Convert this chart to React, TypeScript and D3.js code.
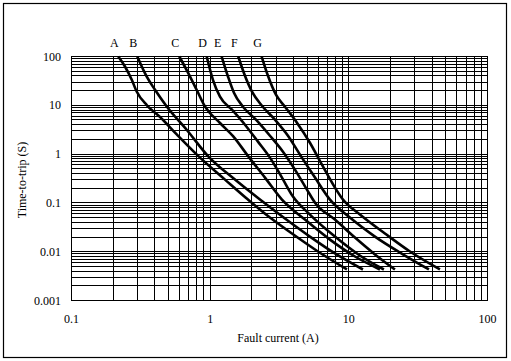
import React, { useEffect, useRef } from "react";
import * as d3 from "d3";

// fuse curves: [fault current (A), time-to-trip (s)]
const curveA = [[0.2175, 100], [0.243, 62.4], [0.272, 33.3], [0.295, 19.2], [0.35, 10], [0.435, 5.75], [0.576, 2.5], [0.83, 0.886], [1.279, 0.3], [1.873, 0.117], [2.698, 0.05], [3.889, 0.0236], [5.99, 0.0101], [9.69, 0.00432]];
const curveB = [[0.298, 100], [0.348, 39], [0.4, 20.8], [0.486, 9.48], [0.677, 3.16], [0.969, 0.899], [1.509, 0.3], [2.286, 0.117], [3.462, 0.0478], [5.24, 0.0204], [7.94, 0.0092], [12.64, 0.00432]];
const curveC = [[0.599, 100], [0.695, 45.7], [0.799, 20.8], [0.917, 9.48], [1.177, 4.34], [1.467, 2.31], [1.883, 0.899], [2.484, 0.33], [3.294, 0.117], [4.826, 0.0455], [7.31, 0.0177], [11.07, 0.00797], [16.76, 0.00432]];
const curveD = [[0.944, 100], [1.047, 33.3], [1.177, 15], [1.436, 8.11], [1.782, 4.0], [2.211, 1.8], [2.698, 0.846], [3.294, 0.33], [3.954, 0.135], [5.24, 0.0577], [7.94, 0.0204], [12.0, 0.00835], [17.9, 0.00432]];
const curveE = [[1.21, 100], [1.344, 39], [1.484, 18.1], [1.724, 9.35], [2.139, 5.07], [2.698, 2.38], [3.349, 1.12], [4.087, 0.48], [4.988, 0.187], [5.7, 0.101], [7.94, 0.0455], [11.07, 0.0195], [15.43, 0.0088], [21.5, 0.00432]];
const curveF = [[1.594, 100], [1.782, 40.3], [2.002, 19], [2.363, 9.8], [2.932, 5.07], [3.639, 2.38], [4.441, 0.974], [5.7, 0.33], [7.31, 0.117], [10.18, 0.0501], [15.43, 0.0204], [25.4, 0.00835], [37.8, 0.00432]];
const curveG = [[2.351, 100], [2.611, 40.3], [2.981, 16.5], [3.462, 9.35], [4.225, 4.4], [5.24, 1.71], [6.4, 0.608], [7.94, 0.206], [9.07, 0.117], [12.02, 0.0577], [18.21, 0.0236], [27.6, 0.0101], [45.4, 0.00432]];

const seriesNames = ["A", "B", "C", "D", "E", "F", "G"];
const seriesData = [curveA, curveB, curveC, curveD, curveE, curveF, curveG];

const xTicks = [0.1, 1, 10, 100];
const xTickLabels = ["0.1", "1", "10", "100"];
const yTicks = [0.001, 0.01, 0.1, 1, 10, 100];
const yTickLabels = ["0.001", "0.01", "0.1", "1", "10", "100"];

const W = 511;
const H = 361;
const margin = { left: 71.5, right: 23.5, top: 56.5, bottom: 60.5 };
const font = "'Liberation Serif', 'Times New Roman', serif";

function App() {
  const svgRef = useRef<SVGSVGElement>(null);

  useEffect(() => {
    const svg = d3.select(svgRef.current);
    svg.selectAll("*").remove();

    const x = d3.scaleLog().domain([0.1, 100]).range([margin.left, W - margin.right]);
    const y = d3.scaleLog().domain([0.001, 100]).range([H - margin.bottom, margin.top]);

    // outer frame
    svg.append("rect")
      .attr("x", 3.5).attr("y", 3.5)
      .attr("width", 503).attr("height", 354)
      .attr("fill", "#fff").attr("stroke", "#000").attr("stroke-width", 1.2);

    // grid
    const grid = svg.append("g").attr("stroke", "#000").attr("stroke-width", 1);
    grid.selectAll(".vx")
      .data(x.ticks())
      .join("line")
      .attr("x1", d => Math.round(x(d) - 0.5) + 0.5)
      .attr("x2", d => Math.round(x(d) - 0.5) + 0.5)
      .attr("y1", y(100)).attr("y2", y(0.001));
    grid.selectAll(".hy")
      .data(y.ticks())
      .join("line")
      .attr("y1", d => Math.round(y(d) - 0.5) + 0.5)
      .attr("y2", d => Math.round(y(d) - 0.5) + 0.5)
      .attr("x1", x(0.1)).attr("x2", x(100));
    svg.append("rect")
      .attr("x", x(0.1)).attr("y", y(100))
      .attr("width", x(100) - x(0.1)).attr("height", y(0.001) - y(100))
      .attr("fill", "none").attr("stroke", "#000");

    // curves
    const line = d3.line<number[]>()
      .x(d => x(d[0]))
      .y(d => y(d[1]))
      .curve(d3.curveMonotoneX);
    svg.append("g")
      .selectAll("path")
      .data(seriesData)
      .join("path")
      .attr("d", d => line(d))
      .attr("fill", "none")
      .attr("stroke", "#000")
      .attr("stroke-width", 2.6)
      .attr("stroke-linejoin", "round");

    // series letters above each curve start
    svg.append("g")
      .selectAll("text")
      .data(seriesNames)
      .join("text")
      .attr("x", (d, i) => x(seriesData[i][0][0]) - 4)
      .attr("y", 47)
      .attr("text-anchor", "middle")
      .attr("font-family", font)
      .attr("font-size", 12)
      .text(d => d);

    // tick labels
    svg.append("g")
      .selectAll("text")
      .data(xTicks)
      .join("text")
      .attr("x", d => x(d))
      .attr("y", 323)
      .attr("text-anchor", "middle")
      .attr("font-family", font)
      .attr("font-size", 12)
      .text((d, i) => xTickLabels[i]);
    svg.append("g")
      .selectAll("text")
      .data(yTicks)
      .join("text")
      .attr("x", 61)
      .attr("y", d => y(d) + 4)
      .attr("text-anchor", "end")
      .attr("font-family", font)
      .attr("font-size", 12)
      .text((d, i) => yTickLabels[i]);

    // axis titles
    svg.append("text")
      .attr("x", 278).attr("y", 342)
      .attr("text-anchor", "middle")
      .attr("font-family", font).attr("font-size", 12)
      .text("Fault current (A)");
    svg.append("text")
      .attr("transform", "translate(26,180) rotate(-90)")
      .attr("text-anchor", "middle")
      .attr("font-family", font).attr("font-size", 12)
      .text("Time-to-trip (S)");
  }, []);

  return (
    <svg ref={svgRef} width={W} height={H}
      style={{ position: "absolute", left: 0, top: 0, background: "#fff" }} />
  );
}

export default App;
